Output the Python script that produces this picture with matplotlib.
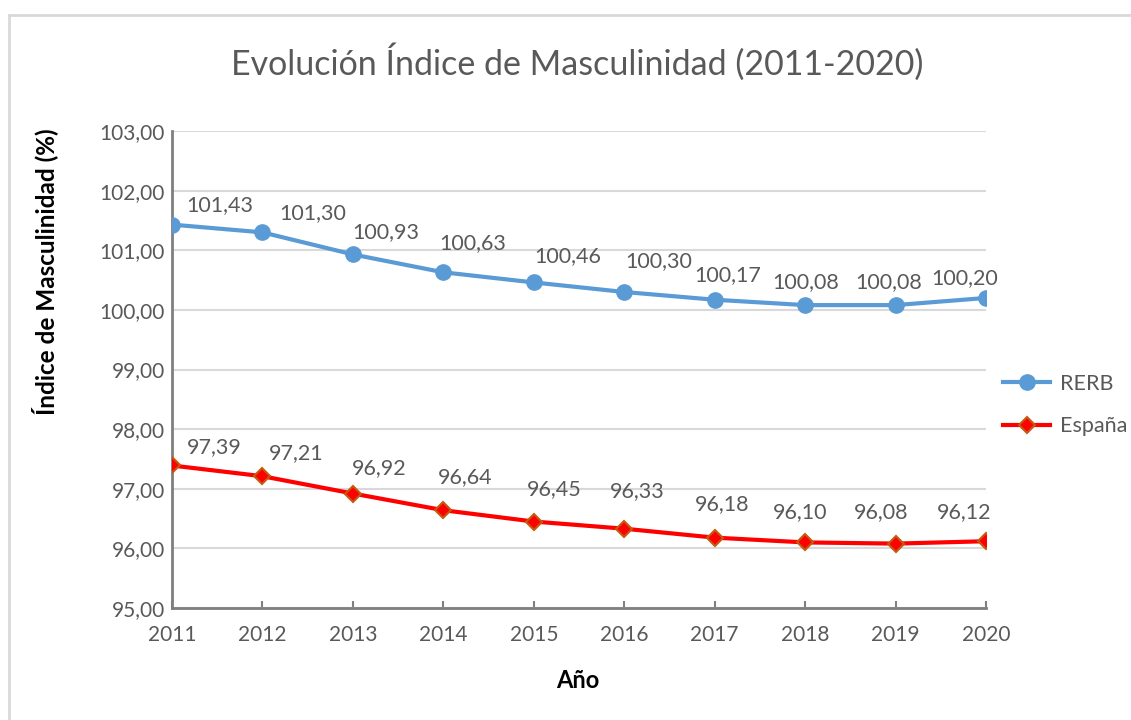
import matplotlib
matplotlib.use('Agg')
from matplotlib import pyplot as plt
from matplotlib.lines import Line2D

# Data
years = [2011, 2012, 2013, 2014, 2015, 2016, 2017, 2018, 2019, 2020]
rerb = [101.43, 101.30, 100.93, 100.63, 100.46, 100.30, 100.17, 100.08, 100.08, 100.20]
espana = [97.39, 97.21, 96.92, 96.64, 96.45, 96.33, 96.18, 96.10, 96.08, 96.12]
y_ticks = [95, 96, 97, 98, 99, 100, 101, 102, 103]

# label offsets (pixels, right/up) as placed in the original chart
rerb_offsets = [(48, 20), (50, 19), (33, 22), (29, 29), (34, 26), (35, 31), (13, 25), (1, 23), (-7, 23), (-21, 20)]
espana_offsets = [(42, 18), (34, 23), (26, 25), (22, 33), (20, 32), (13, 38), (7, 34), (-5, 30), (-14, 32), (-22, 29)]

plt.rcParams['font.family'] = ['Lato', 'DejaVu Sans']
txt_color = '#595959'

W, H = 1131, 720
fig = plt.figure(figsize=(W / 100, H / 100), dpi=100)
ax = fig.add_axes([172 / W, 1 - 608 / H, (986 - 172) / W, (608 - 131) / H])

ax.plot(years, rerb, color='#5B9BD5', lw=3, marker='o', ms=11, label='RERB', zorder=3)
ax.plot(years, espana, color='#FF0000', lw=3, marker='D', ms=8.5, mfc='#FF0000',
        mec='#C55A11', mew=1.5, label='España', zorder=3)

# data labels (positions in pixels -> points at dpi 100)
for x, v, (dx, dy) in zip(years, rerb, rerb_offsets):
    ax.annotate(f'{v:.2f}'.replace('.', ','), (x, v), xytext=(dx * 0.72, dy * 0.72),
                textcoords='offset points', ha='center', va='center', fontsize=15.5, color=txt_color)
for x, v, (dx, dy) in zip(years, espana, espana_offsets):
    ax.annotate(f'{v:.2f}'.replace('.', ','), (x, v), xytext=(dx * 0.72, dy * 0.72),
                textcoords='offset points', ha='center', va='center', fontsize=15.5, color=txt_color)

ax.set_xlim(2011, 2020)
ax.set_ylim(95, 103)
ax.set_xticks(years)
ax.set_yticks(y_ticks)
ax.set_yticklabels([f'{t:.2f}'.replace('.', ',') for t in y_ticks])
ax.grid(axis='y', color='#D9D9D9', lw=1.5, zorder=0)
ax.set_axisbelow(True)

for s in ['top', 'right']:
    ax.spines[s].set_visible(False)
for s in ['left', 'bottom']:
    ax.spines[s].set_color('#7F7F7F')
    ax.spines[s].set_linewidth(2)
ax.tick_params(axis='x', direction='in', length=5, width=1.5, color='#7F7F7F',
               labelsize=15, labelcolor=txt_color, pad=12)
ax.tick_params(axis='y', length=0, labelsize=15, labelcolor=txt_color, pad=5)

fig.text(577 / W, 1 - 62 / H, 'Evolución Índice de Masculinidad (2011-2020)', ha='center', va='center',
         fontsize=24.5, color=txt_color)
fig.text(45 / W, 1 - 272 / H, 'Índice de Masculinidad (%)', rotation=90, ha='center', va='center',
         fontsize=17.5, fontweight='bold', color='black')
fig.text(578 / W, 1 - 680 / H, 'Año', ha='center', va='center', fontsize=17, fontweight='bold', color='black')

leg = fig.legend(loc='center left', bbox_to_anchor=(1003 / W, 1 - 405 / H), frameon=False,
                 fontsize=15.5, labelcolor=txt_color, handlelength=2.2, labelspacing=1.05,
                 handletextpad=0.45, borderpad=0, borderaxespad=0)

# light frame around chart
fig.add_artist(Line2D([9 / W, 1], [1 - 15 / H, 1 - 15 / H], color='#D9D9D9', lw=2, transform=fig.transFigure))
fig.add_artist(Line2D([9 / W, 9 / W], [0, 1 - 15 / H], color='#D9D9D9', lw=2, transform=fig.transFigure))

fig.savefig('out.png', dpi=100)
